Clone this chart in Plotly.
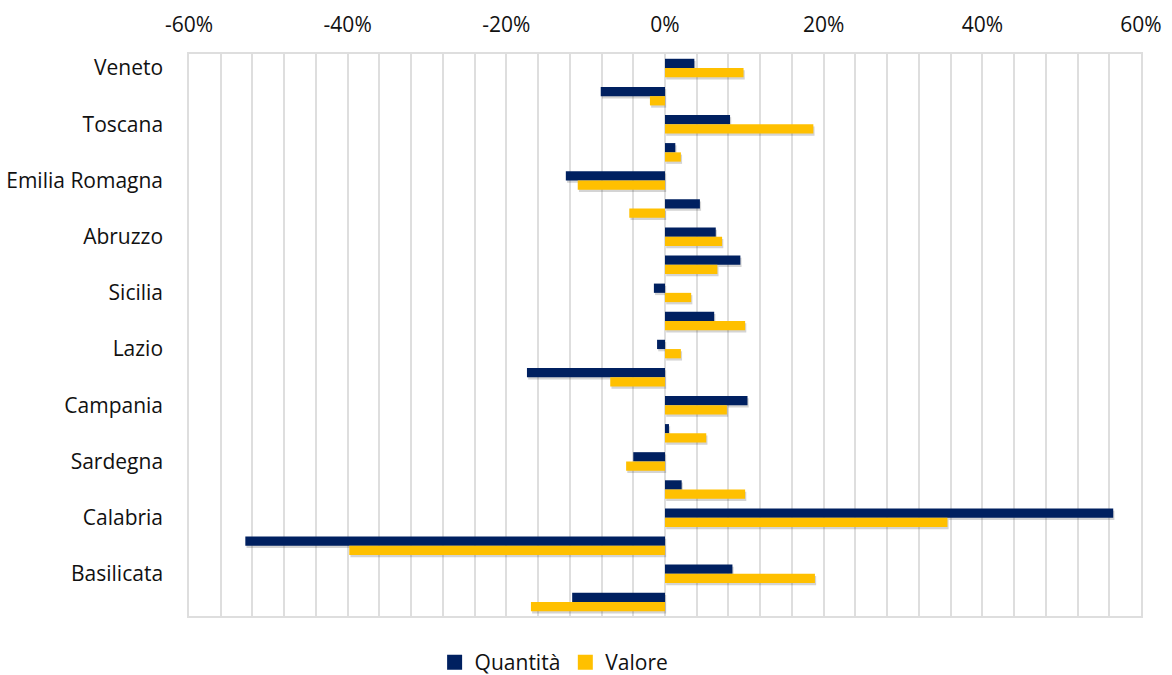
import plotly.graph_objects as go

regions = ["Veneto", "Piemonte", "Toscana", "Lombardia", "Emilia Romagna", "Marche",
           "Abruzzo", "Puglia", "Sicilia", "Friuli Venezia Giulia", "Lazio", "Trentino Alto Adige",
           "Campania", "Umbria", "Sardegna", "Liguria", "Calabria", "Molise",
           "Basilicata", "Valle d'Aosta"]
labeled = ["Veneto", "Toscana", "Emilia Romagna", "Abruzzo", "Sicilia", "Lazio",
           "Campania", "Sardegna", "Calabria", "Basilicata"]
quantita = [0.037, -0.081, 0.082, 0.013, -0.125, 0.044, 0.064, 0.095, -0.014, 0.062,
            -0.010, -0.174, 0.104, 0.005, -0.040, 0.021, 0.565, -0.529, 0.085, -0.117]
valore = [0.099, -0.019, 0.187, 0.020, -0.110, -0.045, 0.072, 0.066, 0.033, 0.101,
          0.020, -0.069, 0.078, 0.052, -0.049, 0.101, 0.356, -0.398, 0.189, -0.169]
x_ticks = [-0.6, -0.4, -0.2, 0.0, 0.2, 0.4, 0.6]
x_ticktext = ["-60%", "-40%", "-20%", "0%", "20%", "40%", "60%"]

font_family = "'Open Sans', 'Noto Sans', sans-serif"
grid = "#dedede"
navy = "#002060"
gold = "#FFC000"
bw = 0.33

fig = go.Figure()
# soft shadows (Excel outer shadow effect)
for vals, off in [(quantita, -bw), (valore, 0.0)]:
    fig.add_trace(go.Bar(y=regions, x=vals, base=0.0015, orientation="h",
                         offset=off + 0.08, width=bw,
                         marker=dict(color="rgba(60,60,60,0.22)", line=dict(width=0)),
                         showlegend=False, hoverinfo="skip"))
fig.add_trace(go.Bar(y=regions, x=quantita, orientation="h", name="Quantità",
                     offset=-bw, width=bw, showlegend=False,
                     marker=dict(color=navy, line=dict(width=0))))
fig.add_trace(go.Bar(y=regions, x=valore, orientation="h", name="Valore",
                     offset=0.0, width=bw, showlegend=False,
                     marker=dict(color=gold, line=dict(width=0))))
# legend entries
fig.add_trace(go.Scatter(x=[None], y=[None], mode="markers", name="Quantità",
                         marker=dict(symbol="square", size=15, color=navy)))
fig.add_trace(go.Scatter(x=[None], y=[None], mode="markers", name="Valore",
                         marker=dict(symbol="square", size=15, color=gold)))

fig.update_layout(
    width=1172, height=675,
    margin=dict(l=189, r=31, t=54, b=59, autoexpand=False),
    plot_bgcolor="white", paper_bgcolor="white",
    barmode="overlay",
    font=dict(family=font_family, size=21, color="#111111"),
    showlegend=True,
    legend=dict(orientation="h", x=0.258, xanchor="left", y=-0.083, yanchor="middle",
                font=dict(size=21), itemwidth=30, tracegroupgap=0, traceorder="normal",
                itemsizing="trace"),
    xaxis=dict(range=[-0.6, 0.6], side="top", tickmode="array", tickvals=x_ticks,
               ticktext=x_ticktext,
               showgrid=True, gridcolor=grid, gridwidth=1.5, zeroline=False,
               minor=dict(dtick=0.04, tick0=-0.6, showgrid=True, gridcolor=grid, gridwidth=1.5),
               showline=True, linecolor=grid, linewidth=1.5, mirror=True, ticks="",
               ticklabelstandoff=12),
    yaxis=dict(categoryorder="array", categoryarray=regions, autorange="reversed",
               tickmode="array", tickvals=labeled, ticktext=labeled, showgrid=False,
               showline=True, linecolor=grid, linewidth=1.5, mirror=True, ticks="",
               ticklabelstandoff=20),
)

fig.write_html("out.html")
